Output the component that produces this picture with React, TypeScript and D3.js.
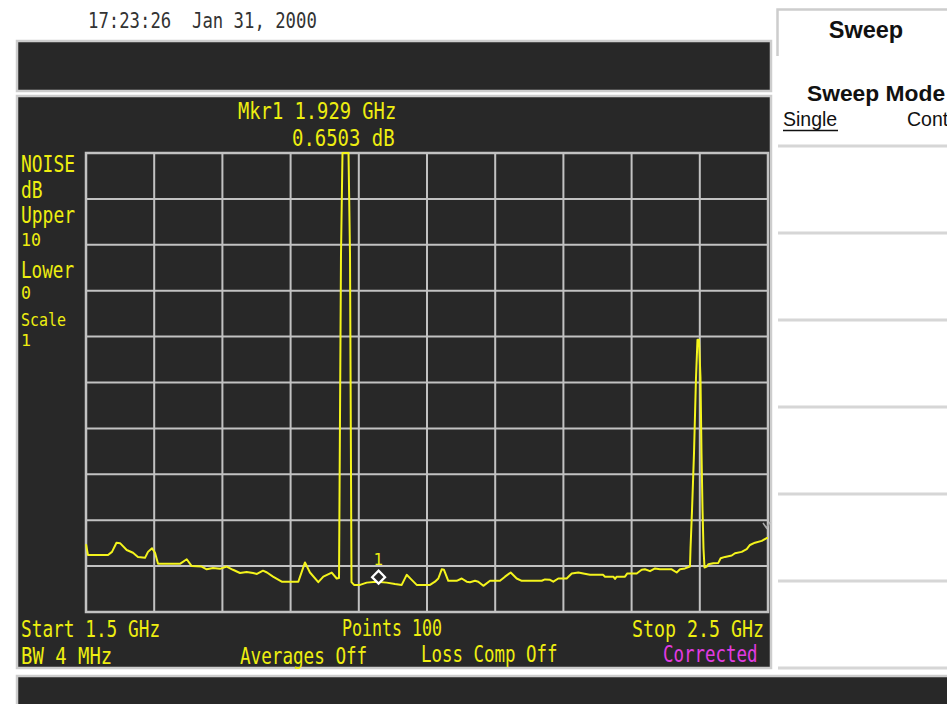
import * as d3 from "d3";
import React from "react";

const W = 947;
const H = 704;

const traceFreq = [
  1.5, 1.5029, 1.5323, 1.5381, 1.5447, 1.5499, 1.5597, 1.5689, 1.5762, 1.5865,
  1.5909, 1.5968, 1.6012, 1.6056, 1.6378, 1.6477, 1.655, 1.6696, 1.677, 1.6862,
  1.6965, 1.7063, 1.7155, 1.7258, 1.7356, 1.7449, 1.7507, 1.7595, 1.7654, 1.7742,
  1.787, 1.8113, 1.8211, 1.8284, 1.8406, 1.848, 1.8603, 1.8676, 1.871, 1.8739,
  1.8761, 1.8849, 1.8871, 1.8893, 1.893, 1.9018, 1.9116, 1.9262, 1.9409, 1.9531,
  1.9629, 1.9702, 1.9776, 1.9849, 2.0044, 2.0117, 2.0166, 2.0216, 2.0249, 2.0312,
  2.0435, 2.0509, 2.0582, 2.063, 2.0704, 2.0752, 2.0826, 2.0924, 2.107, 2.1144,
  2.1227, 2.1315, 2.1389, 2.1682, 2.173, 2.1804, 2.1852, 2.1925, 2.2048, 2.2122,
  2.2219, 2.2292, 2.239, 2.2581, 2.261, 2.2732, 2.2757, 2.2782, 2.2903, 2.2937,
  2.3075, 2.3148, 2.3196, 2.327, 2.3343, 2.3416, 2.3588, 2.3661, 2.371, 2.3783,
  2.3856, 2.3864, 2.3886, 2.3915, 2.3944, 2.3966, 2.3988, 2.401, 2.4025, 2.404,
  2.4054, 2.4069, 2.4101, 2.4125, 2.4198, 2.4271, 2.4306, 2.437, 2.4468, 2.4516,
  2.4614, 2.4688, 2.4736, 2.4809, 2.4908, 2.4981, 2.5,
];
const traceDb = [
  1.48, 1.24, 1.24, 1.31, 1.51, 1.5, 1.35, 1.29, 1.2, 1.18,
  1.31, 1.39, 1.29, 1.05, 1.05, 1.15, 1.0, 0.99, 0.93, 0.96,
  0.94, 0.99, 0.92, 0.85, 0.87, 0.85, 0.83, 0.9, 0.86, 0.77,
  0.66, 0.66, 1.08, 0.86, 0.65, 0.77, 0.86, 0.73, 0.74, 7.8,
  10, 10, 7.8, 0.65, 0.59, 0.59, 0.64, 0.66, 0.64, 0.61,
  0.59, 0.81, 0.7, 0.59, 0.59, 0.66, 0.73, 0.93, 0.92, 0.68,
  0.68, 0.73, 0.66, 0.65, 0.68, 0.66, 0.57, 0.68, 0.68, 0.77,
  0.86, 0.73, 0.68, 0.68, 0.71, 0.7, 0.66, 0.73, 0.73, 0.84,
  0.86, 0.84, 0.81, 0.81, 0.77, 0.77, 0.72, 0.77, 0.77, 0.84,
  0.84, 0.92, 0.93, 0.89, 0.95, 0.93, 0.93, 0.86, 0.93, 0.95,
  0.99, 1.39, 2.22, 3.46, 5.1, 5.93, 5.93, 5.1, 3.46, 2.22,
  1.39, 0.97, 0.99, 1.04, 1.06, 1.07, 1.17, 1.2, 1.23, 1.28,
  1.31, 1.37, 1.46, 1.51, 1.55, 1.61, 1.61,
];

const freqDomain = [1.5, 2.5];
const dbDomain = [0, 10];
const markerFreq = 1.929;
const markerDb = 0.6503;

const leftLabels = [
  { t: "NOISE", y: 172, size: 23, adv: 10.8 },
  { t: "dB", y: 198, size: 23, adv: 10.8 },
  { t: "Upper", y: 223, size: 23, adv: 10.8 },
  { t: "10", y: 246, size: 17, adv: 10 },
  { t: "Lower", y: 278, size: 23, adv: 10.6 },
  { t: "0", y: 299, size: 17, adv: 10 },
  { t: "Scale", y: 326, size: 17, adv: 9 },
  { t: "1", y: 346, size: 16.5, adv: 10 },
];

const softSeparators = [146, 233, 320, 407, 494, 581, 668];

const BG = "#282828";
const EDGE = "#cdcdcd";
const GRID = "#c2c2c2";
const YEL = "#eeee10";
const MONO = "'DejaVu Sans Mono', monospace";

// narrow tall instrument font: squeeze mono glyphs to the measured advance
const Txt = ({ x, y, t, size = 23, adv = 10.6, fill = YEL }) => (
  <text
    x={x}
    y={y}
    fontFamily={MONO}
    fontSize={size}
    fill={fill}
    textLength={t.length * adv}
    lengthAdjust="spacingAndGlyphs"
    style={{ whiteSpace: "pre" }}
  >
    {t}
  </text>
);

const App = () => {
  const x = d3.scaleLinear().domain(freqDomain).range([86, 768]);
  const y = d3.scaleLinear().domain(dbDomain).range([612, 153]);

  const line = d3
    .line<number>()
    .x((d, i) => x(traceFreq[i]))
    .y((d) => y(d));

  const mx = x(markerFreq);
  const my = y(markerDb) - 5;

  return (
    <svg
      width={W}
      height={H}
      style={{ position: "absolute", left: 0, top: 0, background: "#fff" }}
    >
      <rect width={W} height={H} fill="#fff" />
      <Txt x={88} y={28} t="17:23:26  Jan 31, 2000" size={22} adv={10.4} fill="#333" />

      {/* dark boxes */}
      <rect x={17} y={41} width={754} height={50} fill={BG} stroke={EDGE} strokeWidth={2.5} />
      <rect x={17} y={96} width={754} height={572} fill={BG} stroke={EDGE} strokeWidth={2.5} />
      <rect x={17} y={676} width={940} height={40} fill={BG} stroke={EDGE} strokeWidth={2.5} />

      {/* softkey panel */}
      <path d="M777.5,56 V9.5 H947" fill="none" stroke={EDGE} strokeWidth={2.5} />
      <text x={866} y={38} textAnchor="middle" fontFamily="'Liberation Sans', Arial" fontWeight="bold" fontSize={23.5} fill="#111">
        Sweep
      </text>
      <text x={807} y={101} fontFamily="'Liberation Sans', Arial" fontWeight="bold" fontSize={22.8} fill="#111">
        Sweep Mode
      </text>
      <text x={783} y={126} fontFamily="'Liberation Sans', Arial" fontSize={19.5} fill="#111">
        Single
      </text>
      <line x1={783} x2={838} y1={130.5} y2={130.5} stroke="#111" strokeWidth={1.3} />
      <text x={907} y={126} fontFamily="'Liberation Sans', Arial" fontSize={19.5} fill="#111">
        Cont
      </text>
      {softSeparators.map((s) => (
        <line key={s} x1={778} x2={W} y1={s} y2={s} stroke="#d6d6d6" strokeWidth={3} />
      ))}

      {/* graticule */}
      <g stroke={GRID} strokeWidth={2}>
        {x.ticks(10).map((t) => (
          <line key={"v" + t} x1={x(t)} x2={x(t)} y1={y(10)} y2={y(0)} />
        ))}
        {y.ticks(10).map((t) => (
          <line key={"h" + t} x1={x(1.5)} x2={x(2.5)} y1={y(t)} y2={y(t)} />
        ))}
        <rect x={x(1.5)} y={y(10)} width={x(2.5) - x(1.5)} height={y(0) - y(10)} fill="none" strokeWidth={2.5} />
      </g>

      {/* reference tick at right edge */}
      <path d="M763,523 L766.5,528 L770,522" fill="none" stroke="#aaa" strokeWidth={1.5} />

      <path d={line(traceDb) || ""} fill="none" stroke="#f4f41c" strokeWidth={2} strokeLinejoin="round" />

      {/* marker 1 */}
      <path
        d={`M${mx},${my - 6.5} L${mx + 6.5},${my} L${mx},${my + 6.5} L${mx - 6.5},${my} Z`}
        fill={BG}
        stroke="#fff"
        strokeWidth={2.2}
      />
      <Txt x={mx - 5} y={565} t="1" size={16} adv={9.5} />

      <Txt x={238} y={119} t="Mkr1 1.929 GHz" adv={11.3} />
      <Txt x={292} y={146} t="0.6503 dB" adv={11.4} />

      {leftLabels.map((l) => (
        <Txt key={l.t} x={21} y={l.y} t={l.t} size={l.size} adv={l.adv} />
      ))}

      <Txt x={21} y={637} t="Start 1.5 GHz" adv={10.7} />
      <Txt x={342} y={636} t="Points 100" adv={10} />
      <Txt x={632} y={637} t="Stop 2.5 GHz" adv={11} />
      <Txt x={21} y={664} t="BW 4 MHz" adv={11.4} />
      <Txt x={240} y={664} t="Averages Off" adv={10.6} />
      <Txt x={421} y={662} t="Loss Comp Off" adv={10.5} />
      <Txt x={663} y={662} t="Corrected" adv={10.5} fill="#e23be2" />
    </svg>
  );
};

export default App;
